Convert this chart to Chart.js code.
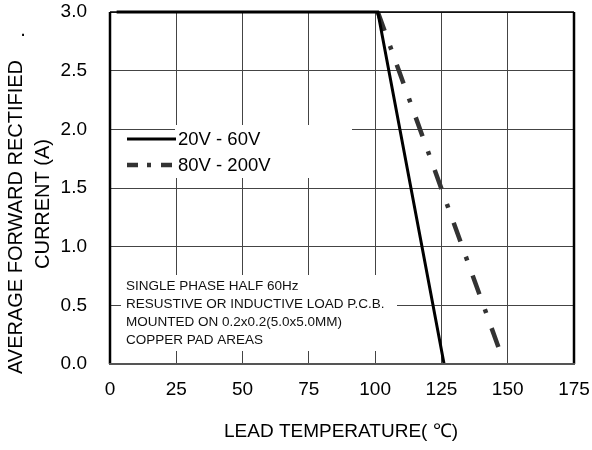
<!DOCTYPE html>
<html>
<head>
<meta charset="utf-8">
<script src="https://cdn.jsdelivr.net/npm/chart.js@4"></script>
<style>
  html, body { margin: 0; padding: 0; background: #fff; }
  #wrap { width: 592px; height: 450px; }
</style>
</head>
<body>
<div id="wrap"><canvas id="derating"></canvas></div>
<script>
// curvas de derating (leitura do grafico)
const temp20_60 = [2.5, 101, 126];
const amp20_60 = [3.0, 3.0, 0.0];
const temp80_200 = [101, 148];
const amp80_200 = [3.0, 0.05];

const serieNomes = ['20V - 60V', '80V - 200V'];
const xTicks = [0, 25, 50, 75, 100, 125, 150, 175];
const yTicks = [0, 0.5, 1.0, 1.5, 2.0, 2.5, 3.0];
const notas = [
    'SINGLE PHASE HALF 60Hz',
    'RESUSTIVE OR INDUCTIVE LOAD P.C.B.',
    'MOUNTED ON 0.2x0.2(5.0x5.0MM)',
    'COPPER PAD AREAS'
];

const FONTE = '"Liberation Sans", Arial, sans-serif';

const pontos = (xs, ys) => xs.map((x, i) => ({ x: x, y: ys[i] }));

// sem padding automatico das escalas, a area fica onde o layout mandar
const semPadding = s => { s.paddingTop = 0; s.paddingBottom = 0; s.paddingLeft = 0; s.paddingRight = 0; };

// desenha caixas brancas, legenda, notas, moldura e titulos dos eixos
const extras = {
    id: 'extras',
    beforeDatasetsDraw(chart) {
        const c = chart.ctx;
        c.save();
        c.fillStyle = '#fff';
        c.fillRect(175, 125, 177, 53);
        c.fillRect(121, 275, 276, 76);
        c.restore();
    },
    afterDatasetsDraw(chart) {
        const c = chart.ctx;
        const a = chart.chartArea;
        c.save();
        // moldura
        c.strokeStyle = '#000';
        c.lineWidth = 1.5;
        c.beginPath(); c.moveTo(a.left, a.top); c.lineTo(a.right, a.top); c.stroke();
        c.lineWidth = 2.5;
        c.beginPath(); c.moveTo(a.left, a.top); c.lineTo(a.left, a.bottom); c.stroke();
        c.beginPath(); c.moveTo(a.right, a.top); c.lineTo(a.right, a.bottom); c.stroke();
        c.strokeStyle = '#555';
        c.lineWidth = 2;
        c.beginPath(); c.moveTo(a.left - 1, a.bottom); c.lineTo(a.right + 1, a.bottom); c.stroke();

        // legenda
        const ds = chart.data.datasets;
        const ly = [139, 165];
        ds.forEach((d, i) => {
            c.strokeStyle = d.borderColor;
            c.lineWidth = d.borderWidth;
            c.setLineDash(i === 0 ? [] : [11, 9, 4, 10]);
            c.beginPath(); c.moveTo(127, ly[i]); c.lineTo(176, ly[i]); c.stroke();
            c.setLineDash([]);
            c.fillStyle = '#000';
            c.font = '18.5px ' + FONTE;
            c.textAlign = 'left';
            c.textBaseline = 'middle';
            c.fillText(d.label, 178, ly[i] + 1);
        });

        // notas
        c.fillStyle = '#111';
        c.font = '13.5px ' + FONTE;
        notas.forEach((t, i) => c.fillText(t, 126, 286 + i * 18));

        // titulos
        c.fillStyle = '#000';
        c.font = '19px ' + FONTE;
        c.textAlign = 'center';
        c.fillText('LEAD TEMPERATURE( \u2103)', 341, 432);
        c.font = '20px ' + FONTE;
        c.save();
        c.translate(16, 217);
        c.rotate(-Math.PI / 2);
        c.fillText('AVERAGE FORWARD RECTIFIED', 0, 0);
        c.restore();
        c.save();
        c.translate(43, 204);
        c.rotate(-Math.PI / 2);
        c.fillText('CURRENT (A)', 0, 0);
        c.restore();
        c.fillText('.', 23, 30);
        c.restore();
    }
};

const ctx = document.getElementById('derating').getContext('2d');
const grafico = new Chart(ctx, {
    type: 'scatter',
    data: {
        datasets: [{
            label: serieNomes[0],
            data: pontos(temp20_60, amp20_60),
            showLine: true,
            borderColor: '#000',
            borderWidth: 3,
            pointRadius: 0,
            clip: false
        }, {
            label: serieNomes[1],
            data: pontos(temp80_200, amp80_200),
            showLine: true,
            borderColor: '#333',
            borderWidth: 4.5,
            borderDash: [20, 16, 4, 16],
            borderCapStyle: 'butt',
            pointRadius: 0,
            clip: false
        }]
    },
    options: {
        responsive: true,
        maintainAspectRatio: false,
        animation: false,
        layout: { padding: { top: 12, right: 18, left: 0, bottom: 0 } },
        plugins: {
            legend: { display: false },
            tooltip: { enabled: false }
        },
        scales: {
            x: {
                type: 'linear',
                min: 0,
                max: 175,
                afterBuildTicks: s => { s.ticks = xTicks.map(v => ({ value: v })); },
                afterFit: s => { s.height = 86; semPadding(s); },
                border: { display: false },
                grid: { color: '#444', lineWidth: 1, drawTicks: false },
                ticks: {
                    padding: 14,
                    color: '#000',
                    font: { family: FONTE, size: 19 }
                }
            },
            y: {
                min: 0,
                max: 3,
                afterBuildTicks: s => { s.ticks = yTicks.map(v => ({ value: v })); },
                afterFit: s => { s.width = 110; semPadding(s); },
                border: { display: false },
                grid: { color: '#444', lineWidth: 1, drawTicks: false },
                ticks: {
                    padding: 23,
                    color: '#000',
                    font: { family: FONTE, size: 19 },
                    callback: v => v.toFixed(1)
                }
            }
        }
    },
    plugins: [extras]
});
</script>
</body>
</html>
